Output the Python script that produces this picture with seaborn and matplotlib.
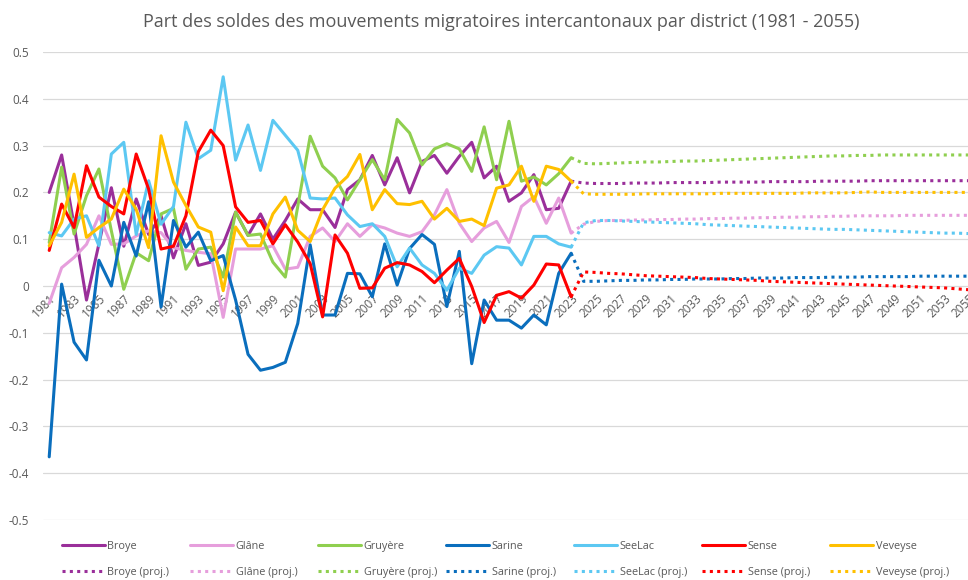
import matplotlib
matplotlib.use('Agg')
import matplotlib.pyplot as plt
import pandas as pd
import seaborn as sns

# --- data -----------------------------------------------------------------
years = list(range(1981, 2024))
years_proj = list(range(2023, 2056))
districts = ['Broye', 'Glâne', 'Gruyère', 'Sarine', 'SeeLac', 'Sense', 'Veveyse']

broye = [0.20, 0.28, 0.13, -0.03, 0.09, 0.21, 0.085, 0.186, 0.11, 0.15,
         0.06, 0.133, 0.044, 0.051, 0.09, 0.158, 0.108, 0.154, 0.10, 0.14,
         0.186, 0.163, 0.163, 0.125, 0.206, 0.227, 0.279, 0.216, 0.274, 0.199,
         0.266, 0.279, 0.241, 0.277, 0.307, 0.231, 0.256, 0.181, 0.199, 0.238,
         0.163, 0.166, 0.224]
glane = [-0.037, 0.039, 0.061, 0.089, 0.15, 0.089, 0.09, 0.107, 0.118, 0.114,
         0.082, 0.076, 0.072, 0.069, -0.067, 0.079, 0.079, 0.079, 0.086, 0.036,
         0.04, 0.106, 0.124, 0.095, 0.133, 0.106, 0.131, 0.124, 0.113, 0.106,
         0.116, 0.152, 0.206, 0.134, 0.095, 0.124, 0.138, 0.093, 0.17, 0.191,
         0.134, 0.188, 0.113]
gruyere = [0.093, 0.254, 0.111, 0.193, 0.25, 0.118, -0.007, 0.071, 0.054, 0.154,
           0.166, 0.036, 0.079, 0.083, 0.019, 0.158, 0.108, 0.111, 0.051, 0.019,
           0.17, 0.32, 0.256, 0.231, 0.184, 0.227, 0.27, 0.227, 0.356, 0.327,
           0.259, 0.293, 0.304, 0.293, 0.245, 0.34, 0.227, 0.352, 0.224, 0.233,
           0.216, 0.24, 0.274]
sarine = [-0.365, 0.004, -0.12, -0.158, 0.055, 0.0, 0.136, 0.064, 0.18, -0.045,
          0.14, 0.083, 0.115, 0.054, 0.065, -0.03, -0.146, -0.18, -0.174, -0.163,
          -0.08, 0.088, -0.062, -0.062, 0.027, 0.026, -0.023, 0.09, 0.002, 0.08,
          0.11, 0.089, -0.044, 0.074, -0.166, -0.03, -0.073, -0.073, -0.09, -0.062,
          -0.083, 0.027, 0.07]
seelac = [0.114, 0.107, 0.143, 0.15, 0.086, 0.282, 0.307, 0.11, 0.225, 0.132,
          0.17, 0.35, 0.272, 0.29, 0.447, 0.269, 0.344, 0.247, 0.354, 0.322,
          0.29, 0.188, 0.186, 0.188, 0.152, 0.127, 0.133, 0.106, 0.041, 0.081,
          0.045, 0.027, -0.009, 0.038, 0.027, 0.066, 0.084, 0.081, 0.045, 0.106,
          0.106, 0.09, 0.083]
sense = [0.076, 0.175, 0.125, 0.257, 0.19, 0.17, 0.154, 0.282, 0.207, 0.079,
         0.085, 0.15, 0.287, 0.333, 0.30, 0.169, 0.136, 0.14, 0.09, 0.131,
         0.094, 0.048, -0.066, 0.109, 0.07, -0.005, -0.004, 0.038, 0.05, 0.045,
         0.031, 0.007, 0.034, 0.059, -0.001, -0.078, -0.02, -0.012, -0.026, 0.002,
         0.047, 0.045, -0.023]
veveyse = [0.086, 0.136, 0.239, 0.104, 0.125, 0.143, 0.207, 0.164, 0.082, 0.321,
           0.222, 0.172, 0.126, 0.115, -0.01, 0.126, 0.086, 0.086, 0.154, 0.19,
           0.119, 0.095, 0.163, 0.209, 0.234, 0.281, 0.163, 0.206, 0.176, 0.174,
           0.181, 0.143, 0.166, 0.138, 0.143, 0.129, 0.209, 0.216, 0.256, 0.181,
           0.256, 0.249, 0.224]

# projections 2023 - 2055
broye_proj = [0.224,
              0.220, 0.219, 0.219, 0.219, 0.220, 0.220, 0.220, 0.221, 0.221, 0.221,
              0.221, 0.222, 0.222, 0.222, 0.222, 0.223, 0.223, 0.223, 0.223, 0.224,
              0.224, 0.224, 0.224, 0.225, 0.225, 0.225, 0.225, 0.225, 0.225, 0.225,
              0.225, 0.225]
glane_proj = [0.113,
              0.132, 0.138, 0.140, 0.140, 0.141, 0.141, 0.142, 0.142, 0.143, 0.143,
              0.144, 0.144, 0.145, 0.145, 0.146, 0.146, 0.147, 0.147, 0.148, 0.148,
              0.149, 0.149, 0.150, 0.150, 0.150, 0.150, 0.151, 0.151, 0.151, 0.151,
              0.151, 0.151]
gruyere_proj = [0.274,
                0.262, 0.261, 0.262, 0.263, 0.264, 0.265, 0.265, 0.266, 0.267, 0.267,
                0.268, 0.269, 0.270, 0.271, 0.272, 0.273, 0.274, 0.275, 0.276, 0.277,
                0.278, 0.278, 0.279, 0.279, 0.280, 0.280, 0.280, 0.280, 0.280, 0.280,
                0.280, 0.280]
sarine_proj = [0.070,
               0.010, 0.010, 0.011, 0.012, 0.012, 0.013, 0.013, 0.014, 0.014, 0.015,
               0.015, 0.015, 0.016, 0.016, 0.017, 0.017, 0.017, 0.018, 0.018, 0.018,
               0.019, 0.019, 0.019, 0.020, 0.020, 0.020, 0.020, 0.021, 0.021, 0.021,
               0.021, 0.021]
seelac_proj = [0.083,
               0.135, 0.140, 0.140, 0.139, 0.138, 0.137, 0.136, 0.135, 0.134, 0.133,
               0.131, 0.130, 0.129, 0.128, 0.127, 0.126, 0.125, 0.124, 0.123, 0.122,
               0.121, 0.121, 0.120, 0.119, 0.118, 0.117, 0.116, 0.115, 0.114, 0.113,
               0.113, 0.112]
sense_proj = [-0.023,
              0.030, 0.029, 0.027, 0.026, 0.024, 0.022, 0.021, 0.020, 0.019, 0.018,
              0.016, 0.015, 0.014, 0.013, 0.012, 0.010, 0.009, 0.008, 0.007, 0.006,
              0.005, 0.004, 0.003, 0.002, 0.001, 0.000, -0.001, -0.002, -0.003, -0.004,
              -0.006, -0.008]
veveyse_proj = [0.224,
                0.197, 0.196, 0.196, 0.196, 0.196, 0.197, 0.197, 0.197, 0.197, 0.197,
                0.197, 0.198, 0.198, 0.198, 0.198, 0.198, 0.198, 0.198, 0.199, 0.199,
                0.199, 0.199, 0.200, 0.201, 0.200, 0.200, 0.200, 0.200, 0.200, 0.200,
                0.200, 0.200]

COLORS = ['#9A2F9A', '#E69EDC', '#8FCF4F', '#0A6EBD', '#5CC8F2', '#FF0000', '#FFC000']
TEXT = '#595959'
DOTTED = (0, (1, 1.4))


def main():
    sns.set_style("whitegrid")
    plt.rcParams['font.family'] = ['Open Sans', 'DejaVu Sans']

    fig = plt.figure(figsize=(9.68, 5.8), dpi=100)
    ax = fig.add_axes([43 / 968, 60 / 580, 932 / 968, 468 / 580])

    actual = [broye, glane, gruyere, sarine, seelac, sense, veveyse]
    proj = [broye_proj, glane_proj, gruyere_proj, sarine_proj,
            seelac_proj, sense_proj, veveyse_proj]

    handles = []
    for name, vals, pvals, color in zip(districts, actual, proj, COLORS):
        df = pd.DataFrame({'year': years, 'value': vals})
        dfp = pd.DataFrame({'year': years_proj, 'value': pvals})
        sns.lineplot(data=df, x='year', y='value', ax=ax, color=color,
                     linewidth=2.2, label=name)
        sns.lineplot(data=dfp, x='year', y='value', ax=ax, color=color,
                     linewidth=2.2, label=f'{name} (proj.)')
        line_p = ax.lines[-1]
        line_p.set_linestyle(DOTTED)
        line_p.set_dash_capstyle('butt')
        handles.append((ax.lines[-2], line_p))

    # move the x axis to y=0 first: set_position resets the ticks
    ax.spines['bottom'].set_position(('data', 0))
    for s in ['top', 'right', 'left', 'bottom']:
        ax.spines[s].set_visible(False)

    ax.set_xlim(1980.5, 2055.5)
    ax.set_ylim(-0.5, 0.5)
    ax.set_yticks([0.5, 0.4, 0.3, 0.2, 0.1, 0, -0.1, -0.2, -0.3, -0.4, -0.5])
    ax.set_yticklabels(['0.5', '0.4', '0.3', '0.2', '0.1', '0', '-0.1', '-0.2',
                        '-0.3', '-0.4', '-0.5'])
    xt = list(range(1981, 2056, 2))
    ax.set_xticks(xt)
    ax.set_xticklabels([str(y) for y in xt], rotation=45, ha='right',
                       rotation_mode='anchor')
    ax.tick_params(axis='both', length=0, colors=TEXT, labelsize=8.5)
    ax.tick_params(axis='x', pad=4)
    ax.tick_params(axis='y', pad=10)
    ax.grid(axis='x', visible=False)
    ax.grid(axis='y', color='#D9D9D9', linewidth=0.9)
    ax.set_xlabel('')
    ax.set_ylabel('')
    ax.set_facecolor('white')
    ax.get_legend().remove()

    fig.suptitle('Part des soldes des mouvements migratoires intercantonaux par district (1981 - 2055)',
                 x=501 / 968, y=0.978, fontsize=13, color=TEXT)

    # legend: one small two-row legend per district, evenly spaced
    for i, (name, (h_act, h_proj)) in enumerate(zip(districts, handles)):
        x0 = (62 + i * 128) / 968
        leg = fig.legend([h_act, h_proj], [name, f'{name} (proj.)'],
                         loc='upper left', bbox_to_anchor=(x0, 39 / 580),
                         frameon=False, fontsize=7.8, handlelength=4.0,
                         handletextpad=0.2, labelspacing=1.35,
                         borderaxespad=0, borderpad=0)
        for t in leg.get_texts():
            t.set_color(TEXT)

    fig.savefig('out.png', dpi=100, facecolor='white')


if __name__ == '__main__':
    main()
